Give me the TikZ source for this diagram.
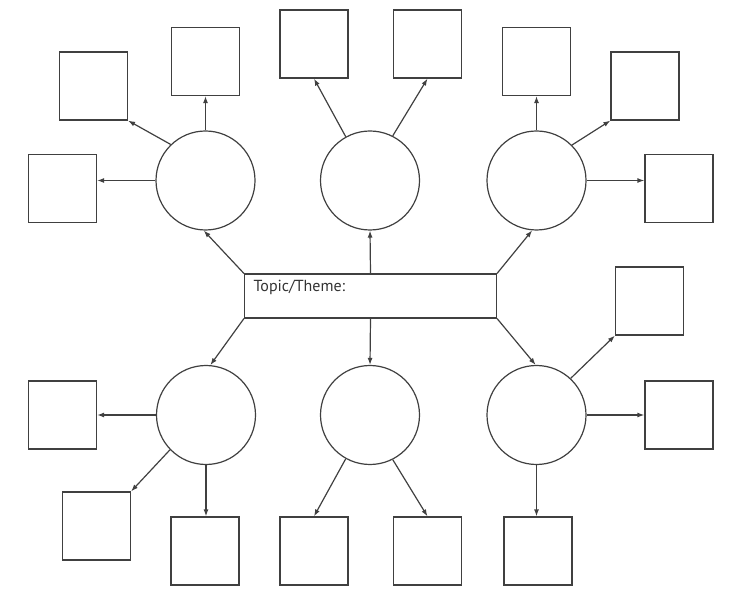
\documentclass[tikz,border=0pt]{standalone}
\usepackage{fontspec}
\setmainfont{PT Sans}
\usepackage{tikz}
\usetikzlibrary{shapes,arrows.meta,positioning,calc}

\begin{document}
\begin{tikzpicture}[x=1pt, y=-1pt, line width=1.2pt, draw=black!75,
            >={Latex[length=7pt,width=5pt]},
            hub/.style={circle, draw=black!75, minimum size=99pt, inner sep=0pt},
            leaf/.style={rectangle, draw=black!75, minimum width=68pt, minimum height=68pt, inner sep=0pt},
            topicbox/.style={rectangle, draw=black!75, minimum width=252pt, minimum height=44pt, inner sep=0pt}]
            \useasboundingbox (0,0) rectangle (739,593);

            % Central box
            \node[topicbox] (topic) at (370.5,296) {};
            \node[anchor=base west, inner sep=0pt, text=black!80, font=\fontsize{16}{19}\selectfont] (label) at (253,291.5) {Topic/Theme:};

            % Circles
            \node[hub] (tl) at (205.5,180.5) {};
            \node[hub] (tm) at (370,180.5) {};
            \node[hub] (tr) at (536.5,180.5) {};
            \node[hub] (bl) at (206,415) {};
            \node[hub] (bm) at (370,415) {};
            \node[hub] (br) at (536.5,415) {};

            % Boxes
            \node[leaf] (tl1) at (93.5,86) {};
            \node[leaf] (tl2) at (205.5,61.5) {};
            \node[leaf] (tl3) at (62.5,188.5) {};
            \node[leaf] (tm1) at (314,44) {};
            \node[leaf] (tm2) at (427.5,44) {};
            \node[leaf] (tr1) at (536.5,61.5) {};
            \node[leaf] (tr2) at (645,86) {};
            \node[leaf] (tr3) at (679,188.5) {};
            \node[leaf] (bl1) at (62.5,415) {};
            \node[leaf] (bl2) at (96.5,526) {};
            \node[leaf] (bl3) at (205,551) {};
            \node[leaf] (bm1) at (314,551) {};
            \node[leaf] (bm2) at (427.5,551) {};
            \node[leaf] (br1) at (649.5,301) {};
            \node[leaf] (br2) at (679,415) {};
            \node[leaf] (br3) at (538,551) {};

            % Topic to circles
            \draw[->] (topic.north west) -- (tl.268);
            \draw[->] (topic.north) -- (tm.south);
            \draw[->] (topic.north east) -- (tr.265);
            \draw[->] (topic.south west) -- (bl.85);
            \draw[->] (topic.south) -- (bm.north);
            \draw[->] (topic.south east) -- (br.91);

            % Circles to boxes
            \draw[->] (tl.134) -- (tl1.south east);
            \draw[->] (tl.north) -- (tl2.south);
            \draw[->] (tl.west) -- (tl.west -| tl3.east);
            \draw[->] (tm.119) -- (tm1.south);
            \draw[->] (tm.63) -- (tm2.south);
            \draw[->] (tr.north) -- (tr1.south);
            \draw[->] (tr.45) -- (tr2.south west);
            \draw[->] (tr.east) -- (tr.east -| tr3.west);
            \draw[->] (bl.west) -- (bl1.east);
            \draw[->] (bl.224) -- (bl2.north east);
            \draw[->] (bl.south) -- (bl.south |- bl3.north);
            \draw[->] (bm.241) -- (bm1.north);
            \draw[->] (bm.297) -- (bm2.north);
            \draw[->] (br.47) -- (br1.south west);
            \draw[->] (br.east) -- (br2.west);
            \draw[->] (br.south) -- (br.south |- br3.north);
        \end{tikzpicture}
\end{document}
